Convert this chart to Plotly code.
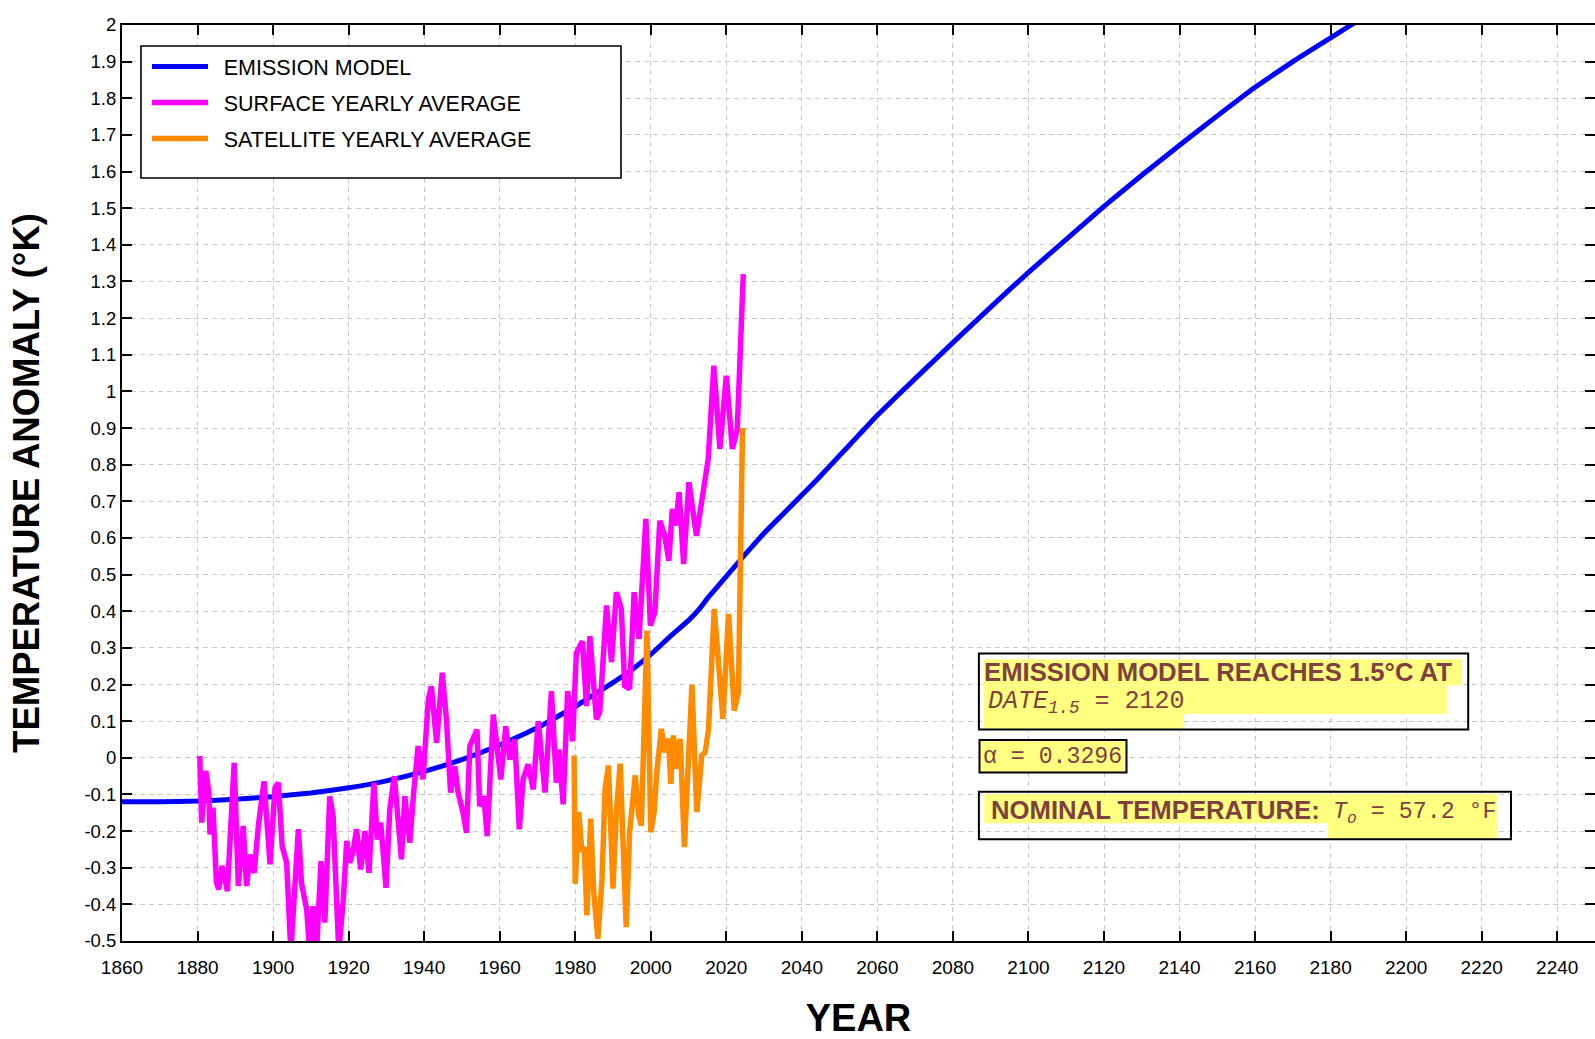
import plotly.graph_objects as go

# ---------------- data ----------------
model_years = [1860, 1870, 1880, 1890, 1900, 1910, 1920, 1930, 1940, 1950, 1960, 1970,
               1980, 1990, 1995, 2000, 2005, 2010, 2013, 2015, 2020, 2025, 2030, 2035,
               2040, 2045, 2050, 2055, 2060, 2070, 2080, 2090, 2100, 2110, 2120, 2130,
               2140, 2150, 2160, 2170, 2180, 2190]
model_values = [-0.12, -0.12, -0.118, -0.113, -0.106, -0.096, -0.082, -0.063, -0.037,
                -0.005, 0.035, 0.082, 0.14, 0.205, 0.24, 0.282, 0.33, 0.375, 0.408,
                0.435, 0.495, 0.555, 0.613, 0.665, 0.717, 0.77, 0.825, 0.88, 0.935,
                1.035, 1.133, 1.23, 1.325, 1.415, 1.505, 1.59, 1.672, 1.752, 1.83,
                1.90, 1.965, 2.03]

surface_years = [1880.6, 1881.1, 1882.2, 1883.0, 1883.3, 1884.1, 1885.0, 1885.6, 1886.5,
                 1887.2, 1887.9, 1889.7, 1890.8, 1892.1, 1892.5, 1893.0, 1893.9, 1895.0,
                 1896.1, 1897.6, 1899.2, 1900.5, 1901.4, 1902.4, 1903.6, 1904.7, 1906.7,
                 1907.5, 1908.9, 1909.7, 1910.6, 1911.5, 1912.7, 1913.7, 1915.0, 1915.9,
                 1917.4, 1918.6, 1919.5, 1920.3, 1921.2, 1922.1, 1923.2, 1924.3, 1925.4,
                 1926.7, 1927.6, 1928.5, 1929.9, 1930.9, 1932.1, 1934.0, 1934.9, 1936.2,
                 1937.3, 1938.4, 1939.7, 1941.1, 1941.9, 1943.3, 1944.8, 1945.9, 1947.0,
                 1948.1, 1949.0, 1950.3, 1951.2, 1952.1, 1954.0, 1954.7, 1955.8, 1956.7,
                 1958.3, 1959.2, 1960.3, 1961.6, 1962.7, 1964.0, 1965.2, 1966.2, 1967.5,
                 1968.9, 1970.2, 1972.0, 1973.7, 1975.0, 1975.7, 1976.8, 1978.0, 1979.3,
                 1980.3, 1981.9, 1983.0, 1983.9, 1985.6, 1986.5, 1988.3, 1989.6, 1990.9,
                 1992.2, 1993.1, 1994.4, 1995.6, 1996.9, 1998.7, 1999.9, 2001.1, 2002.4,
                 2003.7, 2004.8, 2005.7, 2006.6, 2007.5, 2008.7, 2010.1, 2012.1, 2013.2,
                 2014.3, 2015.2, 2016.7, 2018.3, 2020.0, 2021.6, 2022.9, 2024.5]
surface_values = [0.005, -0.177, -0.036, -0.095, -0.209, -0.136, -0.341, -0.359, -0.295,
                  -0.323, -0.364, -0.014, -0.35, -0.186, -0.241, -0.35, -0.264, -0.314,
                  -0.186, -0.064, -0.291, -0.082, -0.068, -0.241, -0.286, -0.53, -0.195,
                  -0.341, -0.414, -0.53, -0.405, -0.53, -0.282, -0.45, -0.105, -0.159,
                  -0.53, -0.386, -0.227, -0.286, -0.255, -0.195, -0.305, -0.2, -0.314,
                  -0.068, -0.223, -0.177, -0.355, -0.141, -0.05, -0.277, -0.105, -0.232,
                  -0.086, 0.032, -0.059, 0.159, 0.195, 0.041, 0.232, 0.105, -0.095,
                  -0.023, -0.095, -0.15, -0.205, 0.032, 0.077, -0.132, -0.105, -0.214,
                  0.118, 0.05, -0.059, 0.086, -0.005, 0.05, -0.195, -0.059, -0.018,
                  -0.086, 0.10, -0.095, 0.182, -0.068, 0.023, -0.127, 0.182, 0.045,
                  0.286, 0.318, 0.141, 0.332, 0.105, 0.125, 0.416, 0.261, 0.452,
                  0.406, 0.197, 0.188, 0.452, 0.325, 0.652, 0.361, 0.397, 0.647,
                  0.606, 0.538, 0.679, 0.634, 0.725, 0.529, 0.752, 0.606, 0.688,
                  0.743, 0.815, 1.07, 0.843, 1.043, 0.843, 0.897, 1.32]

satellite_years = [1979.7, 1980.0, 1980.9, 1981.8, 1982.4, 1983.1, 1984.1, 1984.9, 1986.0,
                   1987.1, 1987.9, 1988.8, 1990.0, 1990.9, 1991.9, 1992.8, 1993.5, 1994.4,
                   1995.9, 1996.8, 1997.5, 1999.0, 2000.0, 2000.9, 2001.6, 2002.8, 2003.7,
                   2004.7, 2005.3, 2006.0, 2006.9, 2007.8, 2008.9, 2010.9, 2012.2, 2013.5,
                   2014.4, 2015.3, 2016.8, 2018.0, 2019.1, 2020.6, 2022.1, 2023.2, 2024.3]
satellite_values = [0.006, -0.344, -0.148, -0.257, -0.244, -0.43, -0.166, -0.366, -0.494,
                    -0.33, -0.085, -0.021, -0.357, -0.148, -0.016, -0.239, -0.462, -0.203,
                    -0.048, -0.157, -0.185, 0.347, -0.203, -0.148, -0.039, 0.079, 0.015,
                    0.052, -0.071, 0.061, -0.03, 0.052, -0.244, 0.20, -0.148, 0.006,
                    0.015, 0.079, 0.406, 0.252, 0.106, 0.393, 0.129, 0.179, 0.90]

x_tick_vals = [1860, 1880, 1900, 1920, 1940, 1960, 1980, 2000, 2020, 2040, 2060, 2080,
               2100, 2120, 2140, 2160, 2180, 2200, 2220, 2240]
x_tick_text = ["1860", "1880", "1900", "1920", "1940", "1960", "1980", "2000", "2020",
               "2040", "2060", "2080", "2100", "2120", "2140", "2160", "2180", "2200",
               "2220", "2240"]
y_tick_vals = [-0.5, -0.4, -0.3, -0.2, -0.1, 0, 0.1, 0.2, 0.3, 0.4, 0.5, 0.6, 0.7, 0.8,
               0.9, 1, 1.1, 1.2, 1.3, 1.4, 1.5, 1.6, 1.7, 1.8, 1.9, 2]
y_tick_text = ["-0.5", "-0.4", "-0.3", "-0.2", "-0.1", "0", "0.1", "0.2", "0.3", "0.4",
               "0.5", "0.6", "0.7", "0.8", "0.9", "1", "1.1", "1.2", "1.3", "1.4", "1.5",
               "1.6", "1.7", "1.8", "1.9", "2"]

# ---------------- layout geometry ----------------
W, H = 1595, 1039
ML, MR, MT, MB = 122, 0, 25, 98
PW, PH = W - ML - MR, H - MT - MB


def fx(px):
    return (px - ML) / PW


def fy(py):
    return (H - MB - py) / PH


TXT = "#804040"
HL = "#FFFF80"
SANS = "Liberation Sans, Arial, sans-serif"
MONO = "Liberation Mono, Courier New, monospace"

fig = go.Figure()
fig.add_trace(go.Scatter(x=model_years, y=model_values, mode="lines",
                         name="\u2002EMISSION MODEL", legendgroup="a",
                         line=dict(color="#0000FF", width=5, shape="spline", smoothing=0.3)))
fig.add_trace(go.Scatter(x=surface_years, y=surface_values, mode="lines",
                         name="\u2002SURFACE YEARLY AVERAGE", legendgroup="b",
                         line=dict(color="#FF00FF", width=5.5)))
fig.add_trace(go.Scatter(x=satellite_years, y=satellite_values, mode="lines",
                         name="\u2002SATELLITE YEARLY AVERAGE", legendgroup="c",
                         line=dict(color="#FF8C00", width=5.5)))

shapes = []


def rect(x0, y0, x1, y1, fill=None, line=None, lw=0):
    shapes.append(dict(type="rect", xref="paper", yref="paper",
                       x0=fx(x0), x1=fx(x1), y0=fy(y1), y1=fy(y0), layer="above",
                       fillcolor=fill if fill else "rgba(0,0,0,0)",
                       line=dict(color=line if line else "rgba(0,0,0,0)", width=lw)))


# legend frame
rect(141, 46, 621, 178, fill="white", line="black", lw=1.6)
# annotation box 1
rect(983.6, 659.3, 1462.1, 685.5, fill=HL)
rect(983.6, 685.5, 1446.8, 714.0, fill=HL)
rect(983.6, 714.0, 1183.6, 729.0, fill=HL)
rect(978.9, 653.5, 1468.2, 729.5, line="black", lw=2)
# box 2
rect(979.5, 740.0, 1126.5, 772.5, fill=HL, line="black", lw=2)
# box 3
rect(984.3, 794.3, 1327.9, 823.3, fill=HL)
rect(1327.9, 794.3, 1496.8, 838.0, fill=HL)
rect(978.9, 791.7, 1511.0, 839.3, line="black", lw=2)

annotations = [
    dict(text="<b>EMISSION MODEL REACHES 1.5°C AT</b>", x=fx(982), y=fy(672),
         font=dict(family=SANS, size=25.7, color=TXT)),
    dict(text="<i>DATE</i><sub><i>1.5</i></sub> = 2120", x=fx(986), y=fy(702),
         font=dict(family=MONO, size=25, color=TXT)),
    dict(text="α = 0.3296", x=fx(981), y=fy(757),
         font=dict(family=MONO, size=23.2, color=TXT)),
    dict(text="<b>NOMINAL TEMPERATURE:</b>", x=fx(989), y=fy(810),
         font=dict(family=SANS, size=25.7, color=TXT)),
    dict(text="<i>T</i><sub><i>o</i></sub> = 57.2 °F", x=fx(1331), y=fy(813),
         font=dict(family=MONO, size=23.3, color=TXT)),
]
for a in annotations:
    a.update(xref="paper", yref="paper", xanchor="left", yanchor="middle",
             showarrow=False)

grid = dict(showgrid=True, gridcolor="#c8c8c8", gridwidth=1.2, griddash="5px,4px")

fig.update_layout(
    width=W, height=H,
    margin=dict(l=ML, r=MR, t=MT, b=MB, autoexpand=False),
    paper_bgcolor="white", plot_bgcolor="white",
    font=dict(family=SANS, color="black"),
    showlegend=True,
    legend=dict(x=fx(147), y=fy(46), xanchor="left", yanchor="top",
                bgcolor="rgba(0,0,0,0)", borderwidth=0,
                font=dict(family=SANS, size=21.5, color="black"),
                tracegroupgap=5, itemwidth=56),
    xaxis=dict(range=[1860, 2250], tickvals=x_tick_vals, ticktext=x_tick_text,
               ticks="inside", ticklen=10, tickwidth=1.5, tickcolor="black",
               showline=True, linecolor="black", linewidth=2, mirror="ticks",
               tickfont=dict(family=SANS, size=19, color="black"),
               ticklabelstandoff=8,
               title=dict(text="<b>YEAR</b>", font=dict(family=SANS, size=38, color="black"),
                          standoff=28),
               zeroline=False, **grid),
    yaxis=dict(range=[-0.5, 2], tickvals=y_tick_vals, ticktext=y_tick_text,
               ticks="inside", ticklen=10, tickwidth=1.5, tickcolor="black",
               showline=True, linecolor="black", linewidth=2, mirror="ticks",
               tickfont=dict(family=SANS, size=18.5, color="black"),
               title=dict(text="<b>TEMPERATURE ANOMALY (°K)</b>",
                          font=dict(family=SANS, size=36.5, color="black"),
                          standoff=34),
               zeroline=False, **grid),
    shapes=shapes,
    annotations=annotations,
)

fig.write_html("out.html")
